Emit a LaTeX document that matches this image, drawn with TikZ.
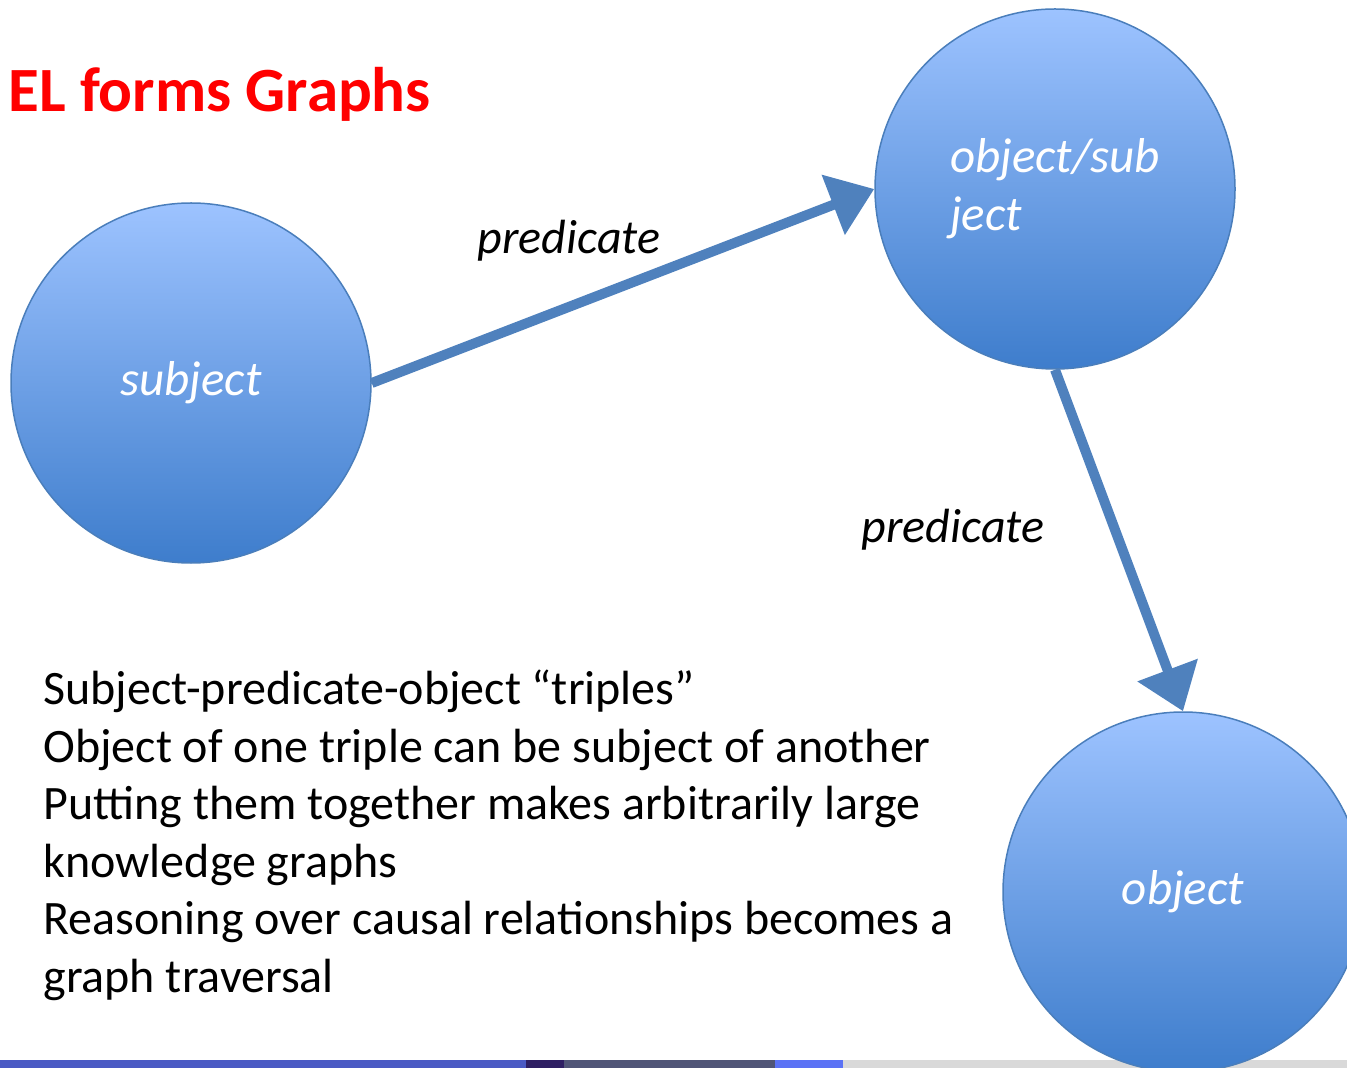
\documentclass[tikz,border=0pt]{standalone}
\usepackage{fontspec}
\setmainfont{Carlito}
\usetikzlibrary{arrows.meta, positioning}
\definecolor{ballborder}{RGB}{74,126,187}
\definecolor{balltop}{RGB}{157,195,255}
\definecolor{ballbottom}{RGB}{62,125,204}
\definecolor{arrowblue}{RGB}{79,129,189}
\definecolor{titlered}{RGB}{255,0,0}
\definecolor{barA}{RGB}{74,90,196}
\definecolor{barB}{RGB}{46,31,99}
\definecolor{barC}{RGB}{80,85,119}
\definecolor{barD}{RGB}{91,114,245}
\definecolor{barE}{RGB}{217,217,217}

\begin{document}
\begin{tikzpicture}[x=0.5pt, y=-0.5pt,
  ball/.style={circle, draw=ballborder, line width=0.75pt, minimum size=180pt,
    top color=balltop, bottom color=ballbottom, text=white, align=left,
    font=\fontsize{24.5}{29}\selectfont\itshape, inner sep=0pt},
  arr/.style={-{Triangle[length=22pt, width=31pt]}, line width=5pt, draw=arrowblue},
  lbl/.style={font=\fontsize{24}{29}\selectfont\itshape},
  body/.style={font=\fontsize{24}{28.75}\selectfont, align=left, inner sep=0pt},
  title/.style={font=\fontsize{31.5}{38}\selectfont\bfseries, text=titlered, inner sep=0pt}
]
\useasboundingbox (0,0) rectangle (1347,1068);

% footer bar
\foreach \a/\b/\c in {0/526/barA, 526/564/barB, 564/775/barC, 775/843/barD, 843/1347/barE}
  \fill[\c] (\a,1060) rectangle (\b,1068);

\node[title, anchor=base west] (head) at (8,112) {EL forms Graphs};

\node[ball] (subj) at (191,383) {subject};
\node[ball] (objsub) at (1055,189) {object/sub\\ject};
\node[ball] (obj) at (1183,892) {object};

\draw[arr] (subj.east) -- (objsub.west);
\draw[arr] (objsub.south) -- (obj.north);

\node[lbl] (p1) at (569,241) {predicate};
\node[lbl] (p2) at (953,530) {predicate};

% last line sits on the base anchor
\node[body, anchor=base west] (triples) at (43,992)
  {Subject-predicate-object “triples”\\
   Object of one triple can be subject of another\\
   Putting them together makes arbitrarily large\\
   knowledge graphs\\
   Reasoning over causal relationships becomes a\\
   graph traversal};
\end{tikzpicture}
\end{document}
